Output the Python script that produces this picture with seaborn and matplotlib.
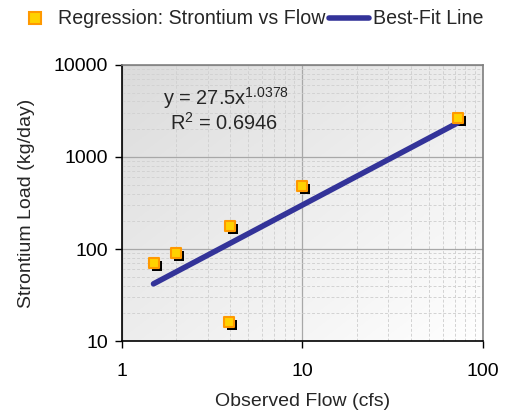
import matplotlib
matplotlib.use("Agg")
import matplotlib.pyplot as plt
import matplotlib.transforms as mtransforms
from matplotlib.lines import Line2D
from matplotlib.ticker import LogLocator, NullFormatter
import numpy as np
import pandas as pd
import seaborn as sns

# ---------------------------------------------------------------------------
# Data
# ---------------------------------------------------------------------------
flow_cfs = [1.5, 2.0, 4.0, 3.95, 10.0, 72.8]
strontium_kg_day = [70, 90, 178, 16.2, 484, 2670]

fit_coef = 27.5
fit_exp = 1.0378
fit_r2 = 0.6946

df = pd.DataFrame({"flow": flow_cfs, "load": strontium_kg_day})
fit_x = [min(flow_cfs), max(flow_cfs)]
fit = pd.DataFrame({"flow": fit_x,
                    "load": [fit_coef * x ** fit_exp for x in fit_x]})

NAVY = "#333399"
GOLD = "#FFD200"
ORANGE = "#FF9900"
FS = 14

sns.set_theme(style="white")
plt.rcParams["font.family"] = ["Liberation Sans", "DejaVu Sans"]
plt.rcParams["mathtext.default"] = "regular"

fig = plt.figure(figsize=(5.17, 4.13), dpi=100)
ax = fig.add_axes([0.2354, 0.174, 0.6986, 0.669])

# gradient background: light grey top-left -> white bottom-right
t = np.add.outer(np.linspace(0, 1, 200), np.linspace(0, 1, 200)) / 2
g = 0.86 + 0.14 * t
ax.imshow(np.dstack([g, g, g]), extent=[0, 1, 0, 1], transform=ax.transAxes,
          aspect="auto", zorder=0, origin="upper")

ax.set_xscale("log")
ax.set_yscale("log")
ax.set_xlim(1, 100)
ax.set_ylim(10, 10000)

ax.grid(True, which="major", color="#a8a8a8", lw=0.9, zorder=1)
ax.grid(True, which="minor", color="#d2d2d2", lw=0.7, ls=(0, (3, 2)), zorder=1)
ax.set_axisbelow(True)

# shadows
sns.scatterplot(data=df, x="flow", y="load", marker="s", s=55, color="black",
                edgecolor="black", linewidth=0, ax=ax, zorder=3, legend=False)
shadow = ax.collections[-1]
shadow.set_offset_transform(ax.transData +
                            mtransforms.ScaledTranslation(0.03, -0.03, fig.dpi_scale_trans))

sns.lineplot(data=fit, x="flow", y="load", color=NAVY, lw=4,
             solid_capstyle="round", ax=ax, zorder=4)

sns.scatterplot(data=df, x="flow", y="load", marker="s", s=55, color=GOLD,
                edgecolor=ORANGE, linewidth=1.5, ax=ax, zorder=5, legend=False)

ax.xaxis.set_minor_locator(LogLocator(base=10, subs=np.arange(2, 10)))
ax.yaxis.set_minor_locator(LogLocator(base=10, subs=np.arange(2, 10)))
ax.xaxis.set_minor_formatter(NullFormatter())
ax.yaxis.set_minor_formatter(NullFormatter())
ax.set_xticks([1, 10, 100])
ax.set_xticklabels(["1", "10", "100"])
ax.set_yticks([10, 100, 1000, 10000])
ax.set_yticklabels(["10", "100", "1000", "10000"])
ax.tick_params(which="major", direction="out", length=5, width=1,
               labelsize=FS, colors="black", left=True, bottom=True)
ax.tick_params(axis="x", which="major", pad=11)
ax.tick_params(axis="y", which="major", pad=5)
ax.tick_params(which="minor", length=0)

for side in ["left", "bottom"]:
    ax.spines[side].set_color("black")
    ax.spines[side].set_linewidth(1.2)
for side in ["top", "right"]:
    ax.spines[side].set_color("#808080")
    ax.spines[side].set_linewidth(1.2)

ax.set_xlabel("Observed Flow (cfs)", fontsize=FS, labelpad=9)
ax.set_ylabel("Strontium Load (kg/day)", fontsize=FS, labelpad=13)

ax.text(0.115, 0.88, f"y = {fit_coef}x$^{{{fit_exp}}}$", transform=ax.transAxes,
        fontsize=14.4, ha="left", va="center")
ax.text(0.135, 0.79, f"R$^{{2}}$ = {fit_r2}", transform=ax.transAxes,
        fontsize=14.4, ha="left", va="center")

handles = [
    Line2D([], [], marker="s", ls="none", markersize=8, markerfacecolor=GOLD,
           markeredgecolor=ORANGE, markeredgewidth=1.5),
    Line2D([], [], color=NAVY, lw=4, solid_capstyle="round"),
]
fig.legend(handles, ["Regression: Strontium vs Flow", "Best-Fit Line"],
           loc="center", bbox_to_anchor=(249 / 517, 1 - 19 / 413), ncol=2,
           frameon=False, fontsize=14.1, handlelength=2.0, handletextpad=0.2,
           columnspacing=0.2, borderpad=0.2)

fig.savefig("out.png", dpi=100, facecolor="white")
